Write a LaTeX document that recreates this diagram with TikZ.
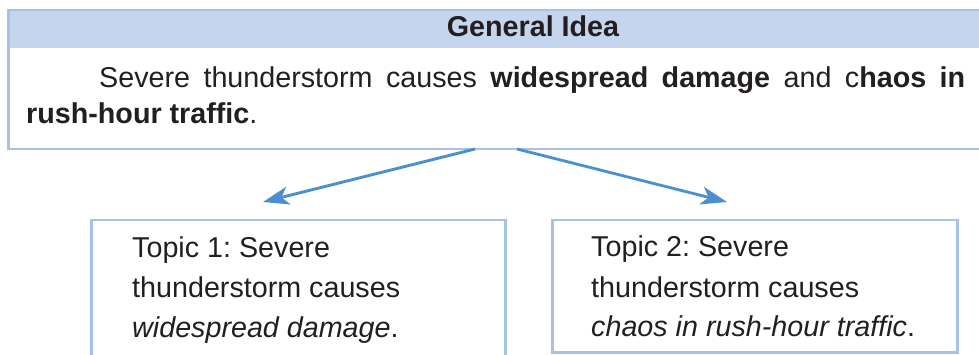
\documentclass[tikz,border=0pt]{standalone}
\usepackage{fontspec}
\setmainfont{Liberation Sans}
\usetikzlibrary{arrows.meta}
\definecolor{bord}{HTML}{A6C3E7}
\definecolor{hdrfill}{HTML}{C5D5EE}
\definecolor{arr}{HTML}{4A8FD0}
\definecolor{ink}{HTML}{231F20}
\frenchspacing
\begin{document}
\begin{tikzpicture}[x=1pt,y=-1pt,
  box/.style={draw=bord,line width=2.5pt,inner sep=0pt,anchor=north west},
  txt/.style={anchor=base west,inner sep=0pt,text=ink,font=\fontsize{28.7}{38}\selectfont},
  conn/.style={draw=arr,line width=2.8pt,-{Stealth[length=26pt,width=18pt,inset=7pt]}}]
\useasboundingbox (0,0) rectangle (979,355);
\fill[white] (0,0) rectangle (979,355);
% general idea box
\node[fill=hdrfill,inner sep=0pt,anchor=north west,minimum width=1000pt,minimum height=39pt] (hdr) at (7,9) {};
\node[box,minimum width=1000pt,minimum height=139pt] (gen) at (7,9) {};
\node[txt,anchor=base] (title) at (533,37) {\bfseries General Idea};
\node[txt] (g1) at (99,88) {\makebox[866pt][s]{Severe thunderstorm causes \textbf{widespread damage} and c\textbf{haos in}}};
\node[txt] (g2) at (26,124) {\textbf{rush-hour traffic}.};
% topic boxes
\node[box,minimum width=414pt,minimum height=151pt] (topic1) at (90,219) {};
\node[box,minimum width=405pt,minimum height=132pt] (topic2) at (551,219) {};
\node[txt] (a1) at (132,258) {Topic 1: Severe};
\node[txt] (a2) at (132,297) {thunderstorm causes};
\node[txt] (a3) at (132,337) {\textit{widespread damage}.};
\node[txt] (b1) at (591,257) {Topic 2: Severe};
\node[txt] (b2) at (591,297) {thunderstorm causes};
\node[txt] (b3) at (591,336) {\textit{chaos in rush-hour traffic}.};
% connectors
\coordinate (s1) at (475,149);
\coordinate (e1) at (263,202);
\coordinate (s2) at (517,149);
\coordinate (e2) at (727,202);
\draw[conn] (s1) -- (e1);
\draw[conn] (s2) -- (e2);
\end{tikzpicture}
\end{document}
